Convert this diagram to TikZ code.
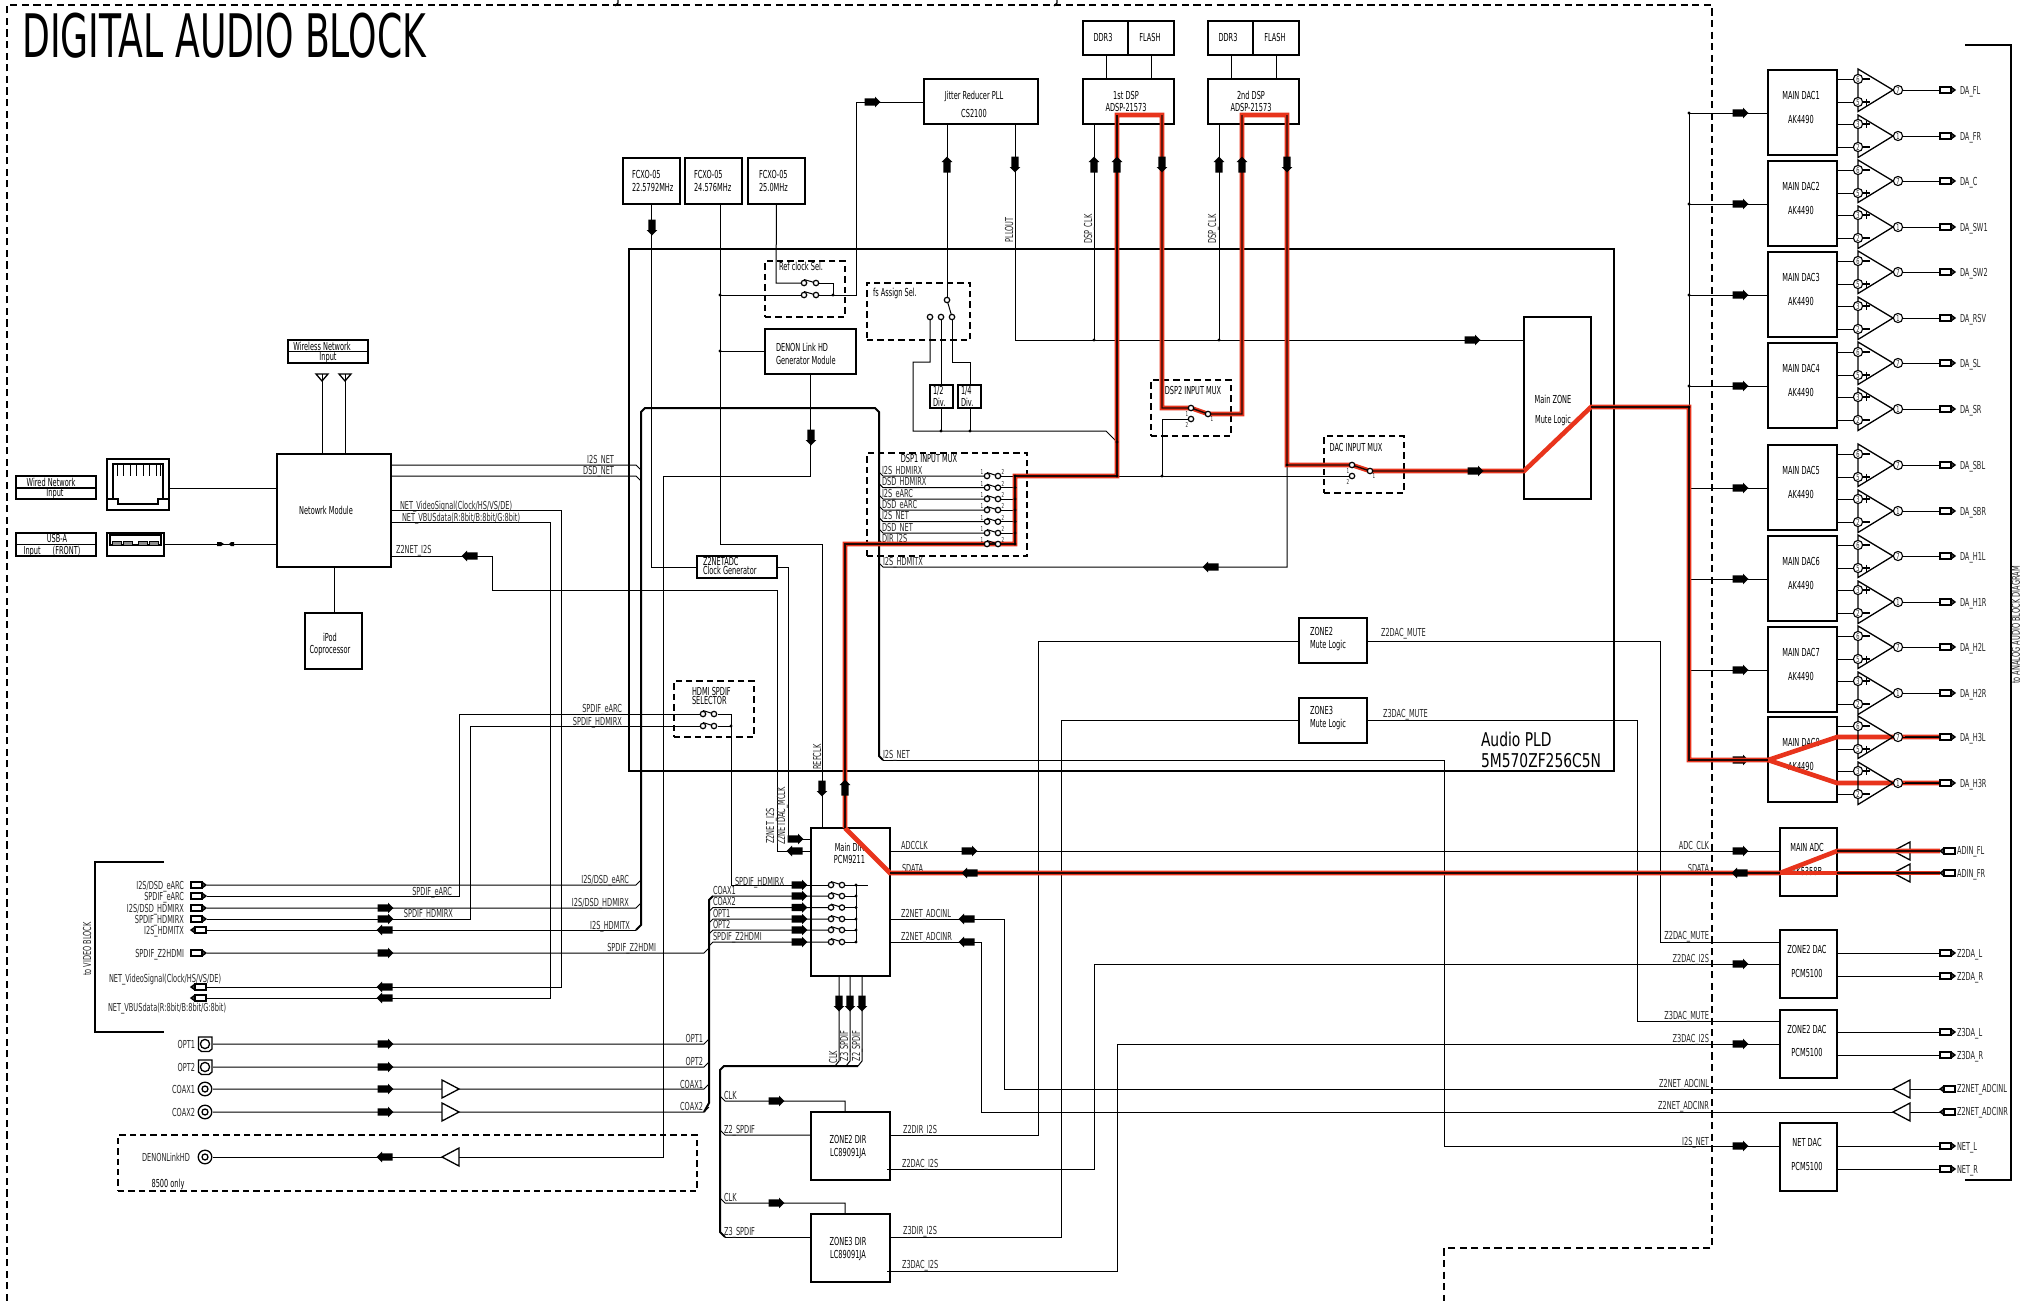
\documentclass[tikz,border=0pt]{standalone}
\usepackage{fontspec}
\setmainfont{DejaVu Sans}[FakeStretch=0.6]
\newfontfamily\titlefont{DejaVu Sans}[FakeStretch=0.603]
\newfontfamily\pldfont{DejaVu Sans}[FakeStretch=0.73]
\definecolor{hl}{RGB}{232,52,28}
\newcommand\lfont{\fontsize{5.5}{5.5}\selectfont}
\newcommand\sfont{\fontsize{4.2}{4.2}\selectfont}
\newcommand\xfont{\fontsize{3.4}{3.4}\selectfont}
\newcounter{lc}
\tikzset{
  boxb/.style={draw=black,line width=0.7pt,inner sep=0pt,outer sep=0pt,font=\lfont},
  dbox/.style={draw=black,line width=0.6pt,dash pattern=on 3.2pt off 2pt,inner sep=0pt,outer sep=0pt,font=\lfont},
  wire/.style={draw=black,line width=0.5pt},
  busl/.style={draw=black,line width=1pt},
  framel/.style={draw=black,line width=0.6pt,dash pattern=on 3.6pt off 2.2pt},
  redo/.style={draw=hl,line width=2.3pt,line join=miter},
  redc/.style={draw=black!85!hl,line width=0.7pt},
  shp/.style={draw=black,line width=0.65pt,line join=miter},
  symb/.style={draw=black,fill=white,line width=0.6pt},
  lab/.style={inner sep=0pt,outer sep=0pt,font=\lfont,text height=4pt,text depth=0pt,text=black!85},
  pinn/.style={circle,draw=black,fill=white,line width=0.55pt,inner sep=0pt,outer sep=0pt,minimum size=4.6pt,font=\sfont,text=black!85},
  numb/.style={inner sep=0pt,outer sep=0pt,font=\xfont,text=black!85},
}
\newcommand\Tc[1]{\makebox[0pt][c]{\begin{tabular}{@{}c@{}}#1\end{tabular}}}
\newcommand\Tl[1]{\makebox[0pt][l]{\begin{tabular}{@{}l@{}}#1\end{tabular}}}
\newcommand\blk[9][boxb]{%
  \pgfmathsetmacro\bW{(#5-#3)/2}\pgfmathsetmacro\bH{(#6-#4)/2}%
  \pgfmathsetmacro\bX{(#5+#3)/2}\pgfmathsetmacro\bY{(#6+#4)/2}%
  \pgfmathsetmacro\bDx{#7-\bX}\pgfmathsetmacro\bDy{(\bY-(#8))/2-2}%
  \node[#1,minimum width=\bW pt,minimum height=\bH pt] (#2) at (\bX,\bY)
    {\makebox[0pt][c]{\hspace*{\bDx pt}\raisebox{\bDy pt}[0pt][0pt]{#9}}};}
\newcommand\Lw[3]{\stepcounter{lc}\node[lab,anchor=west] (t\thelc) at (#1,#2) {#3};}
\newcommand\Le[3]{\stepcounter{lc}\node[lab,anchor=east] (t\thelc) at (#1,#2) {#3};}
\newcommand\Lr[3]{\stepcounter{lc}\node[lab,anchor=center,rotate=90] (t\thelc) at (#1,#2) {#3};}
\newcommand\Ln[3]{\stepcounter{lc}\node[numb] (t\thelc) at (#1,#2) {#3};}
\newcommand\pinc[3]{\stepcounter{lc}\node[pinn] (t\thelc) at (#1,#2) {#3};}
\newcommand\aR[2]{\fill[black] (#1,#2) ++(-7.5,-3.7) -- ++(10.5,0) -- ++(0,-1.6) -- ++(5.5,5.3) -- ++(-5.5,5.3) -- ++(0,-1.6) -- ++(-10.5,0) -- cycle;}
\newcommand\aL[2]{\fill[black] (#1,#2) ++(7.5,-3.7) -- ++(-10.5,0) -- ++(0,-1.6) -- ++(-5.5,5.3) -- ++(5.5,5.3) -- ++(0,-1.6) -- ++(10.5,0) -- cycle;}
\newcommand\aU[2]{\fill[black] (#1,#2) ++(-3.7,7.5) -- ++(0,-10.5) -- ++(-1.6,0) -- ++(5.3,-5.5) -- ++(5.3,5.5) -- ++(-1.6,0) -- ++(0,10.5) -- cycle;}
\newcommand\aD[2]{\fill[black] (#1,#2) ++(-3.7,-7.5) -- ++(0,10.5) -- ++(-1.6,0) -- ++(5.3,5.5) -- ++(5.3,-5.5) -- ++(-1.6,0) -- ++(0,-10.5) -- cycle;}
\newcommand\dt[2]{\fill[black] (#1,#2) circle (0.85pt);}
\newcommand\ring[2]{\draw[symb] (#1,#2) circle (1.35pt);}
\newcommand\sw[3]{\draw[wire] (#1,#3-3.5) -- (#2,#3); \ring{#1}{#3} \ring{#2}{#3}}
\newcommand\portR[2]{\draw[shp,fill=white] (#1,#2-3) rectangle (#1+11,#2+3); \draw[shp] (#1+11,#2-3) -- (#1+15,#2) -- (#1+11,#2+3); \draw[wire] (#1+12,#2-1.5) -- (#1+13.5,#2) -- (#1+12,#2+1.5);}
\newcommand\portL[2]{\draw[shp,fill=white] (#1+15,#2-3) rectangle (#1+4,#2+3); \draw[shp] (#1+4,#2-3) -- (#1,#2) -- (#1+4,#2+3); \draw[wire] (#1+3,#2-1.5) -- (#1+1.5,#2) -- (#1+3,#2+1.5);}
\newcommand\triR[2]{\draw[shp,fill=white] (#1,#2-9) -- (#1+17,#2) -- (#1,#2+9) -- cycle;}
\newcommand\triL[2]{\draw[shp,fill=white] (#1+17,#2-9) -- (#1,#2) -- (#1+17,#2+9) -- cycle;}
\newcommand\coax[2]{\draw[shp] (#1,#2) circle (3.4pt); \draw[shp] (#1,#2) circle (1.5pt);}
\newcommand\optc[2]{\draw[shp] (#1-6.5,#2-7) -- (#1+7,#2-7) -- (#1+7,#2+5) -- (#1+4,#2+7.5) -- (#1-3.5,#2+7.5) -- (#1-6.5,#2+5) -- cycle; \draw[shp] (#1,#2) circle (2.3pt);}
\newcommand\opamp[6]{%
  \draw[shp] (1858,#5-21) -- (1893,#5) -- (1858,#5+21.5) -- cycle;
  \pinc{1858}{#1}{#2}\pinc{1858}{#3}{#4}\pinc{1898}{#5}{#6}}
\newcommand\plusm[1]{\draw[wire,line width=0.6pt] (1863,#1) -- (1870,#1) (1866.5,#1-3.5) -- (1866.5,#1+3.5);}
\newcommand\minusm[1]{\draw[wire,line width=0.6pt] (1863,#1) -- (1870,#1);}
\begin{document}\catcode`\_=12
\begin{tikzpicture}[x=0.5pt,y=-0.5pt]
\useasboundingbox (0,0) rectangle (2020,1301);
% ---------- frames ----------
\draw[framel] (7,1301) -- (7,5) -- (1712,5) -- (1712,1248) -- (1444,1248) -- (1444,1301);
\draw[shp] (618,0) -- (618,3) -- (615,6);
\draw[shp] (1057,0) -- (1057,3) -- (1054,6);
\draw[shp] (1965,45) -- (2011,45) -- (2011,1180) -- (1965,1180);
\Lr{2015.8}{625}{to ANALOG AUDIO BLOCK DIAGRAM}
\draw[shp] (164,862) -- (95,862) -- (95,1032) -- (164,1032);
\Lr{87}{949}{to VIDEO BLOCK}
\stepcounter{lc}\node[inner sep=0pt,anchor=west,font=\titlefont\fontsize{30}{30}\selectfont,text height=22pt,text depth=0pt] (title) at (22,35) {DIGITAL AUDIO BLOCK};
% ---------- blocks ----------
\blk{PLD}{629}{249}{1614}{771}{1481}{750}{\Tl{\pldfont\fontsize{9.5}{9.5}\selectfont Audio PLD\\[1.4pt]\pldfont\fontsize{9.5}{9.5}\selectfont 5M570ZF256C5N}}
\blk{WLa}{288}{340}{368}{351.5}{322}{346}{\Tc{Wireless Network}}
\blk{WLb}{288}{351.5}{368}{363}{328}{357}{\Tc{Input}}
\blk{WDa}{16}{476}{96}{488}{51}{482}{\Tc{Wired Network}}
\blk{WDb}{16}{488}{96}{499}{55}{493}{\Tc{Input}}
\blk{USa}{16}{533}{96}{544.5}{57}{539}{\Tc{USB-A}}
\blk{USb}{16}{544.5}{96}{556}{52}{550}{\Tc{Input\hspace{6pt}(FRONT)}}
\blk{RJ}{107}{459}{169}{510}{138}{484}{}
\blk{USBJ}{107}{533}{164}{556}{135}{544}{}
\blk{NM}{277}{454}{391}{567}{326}{510}{\Tc{Netowrk Module}}
\blk{IPOD}{305}{613}{362}{669}{330}{643.5}{\Tc{iPod\\[0.6pt]Coprocessor}}
\blk{FCa}{623}{158}{680}{204}{632}{181}{\Tl{FCXO-05\\[0.6pt]22.5792MHz}}
\blk{FCb}{685}{158}{742}{204}{694}{181}{\Tl{FCXO-05\\[0.6pt]24.576MHz}}
\blk{FCc}{748}{158}{805}{204}{759}{181}{\Tl{FCXO-05\\[0.6pt]25.0MHz}}
\blk{PLL}{924}{79}{1038}{124}{974}{104.5}{\Tc{Jitter Reducer PLL\\[3pt]CS2100}}
\blk{DDRa}{1083}{21}{1128}{55}{1103}{38}{\Tc{DDR3}}
\blk{FLa}{1128}{21}{1174}{55}{1150}{38}{\Tc{FLASH}}
\blk{DSPa}{1083}{79}{1174}{124}{1126}{101.5}{\Tc{1st DSP\\[0pt]ADSP-21573}}
\blk{DDRb}{1208}{21}{1253}{55}{1228}{38}{\Tc{DDR3}}
\blk{FLb}{1253}{21}{1299}{55}{1275}{38}{\Tc{FLASH}}
\blk{DSPb}{1208}{79}{1299}{124}{1251}{101.5}{\Tc{2nd DSP\\[0pt]ADSP-21573}}
\blk[dbox]{RCS}{765}{261}{845}{317}{779}{266}{\Tl{Ref clock Sel.}}
\blk[dbox]{FSA}{867}{283}{970}{340}{873}{292}{\Tl{fs Assign Sel.}}
\blk{DLH}{765}{329}{856}{374}{776}{354}{\Tl{DENON Link HD\\[0.6pt]Generator Module}}
\blk{DIVa}{930}{385}{953}{408}{933}{396.5}{\Tl{1/2\\[0.3pt]Div.}}
\blk{DIVb}{958}{385}{981}{408}{961}{396.5}{\Tl{1/4\\[0.3pt]Div.}}
\blk[dbox]{DM1}{867}{453}{1027}{556}{929}{459}{\Tc{DSP1 INPUT MUX}}
\blk[dbox]{DM2}{1151}{380}{1231}{436}{1193}{391}{\Tc{DSP2 INPUT MUX}}
\blk[dbox]{DACM}{1324}{436}{1404}{493}{1356}{448}{\Tc{DAC INPUT MUX}}
\blk{MZ}{1524}{317}{1591}{499}{1553}{409.5}{\Tc{Main ZONE\\[4pt]Mute Logic}}
\blk{CG}{697}{556}{777}{578}{703}{566}{\Tl{Z2NETADC\\[-1pt]Clock Generator}}
\blk[dbox]{HSS}{674}{681}{754}{737}{692}{696}{\Tl{HDMI SPDIF\\[-1.5pt]SELECTOR}}
\blk{Z2M}{1299}{618}{1367}{663}{1310}{638}{\Tl{ZONE2\\[0.6pt]Mute Logic}}
\blk{Z3M}{1299}{698}{1367}{743}{1310}{717}{\Tl{ZONE3\\[0.6pt]Mute Logic}}
\blk{DIR}{811}{828}{890}{976}{849.5}{853.5}{\Tc{Main DIR\\[0pt]PCM9211}}
\blk{Z2D}{811}{1112}{890}{1180}{848}{1146}{\Tc{ZONE2 DIR\\[0.6pt]LC89091JA}}
\blk{Z3D}{811}{1214}{890}{1282}{848}{1248}{\Tc{ZONE3 DIR\\[0.6pt]LC89091JA}}
\foreach \n/\yy in {1/70,2/161,3/252,4/343,5/445,6/536,7/627,8/717}{
  \pgfmathsetmacro\ya{\yy+85}
  \blk{dac\n}{1768}{\yy}{1837}{\ya}{1801}{\yy+37.5}{\Tc{MAIN DAC\n\\[6pt]AK4490}}
}
\blk{ADC}{1780}{828}{1837}{896}{1807}{859.5}{\Tc{MAIN ADC\\[6pt]AK5358B}}
\blk{ZD2}{1780}{930}{1837}{998}{1807}{961.5}{\Tc{ZONE2 DAC\\[6pt]PCM5100}}
\blk{ZD3}{1780}{1010}{1837}{1078}{1807}{1041}{\Tc{ZONE2 DAC\\[6pt]PCM5100}}
\blk{ND}{1780}{1123}{1837}{1191}{1807}{1154.5}{\Tc{NET DAC\\[6pt]PCM5100}}
\blk[dbox]{DEN}{118}{1135}{697}{1191}{168}{1183}{\Tc{8500 only}}
% ---------- network side ----------
\draw[shp] (316,374) -- (328,374) -- (322,381) -- cycle; \draw[wire] (322,374) -- (322,0 |- NM.north);
\draw[shp] (339,374) -- (351,374) -- (345,381) -- cycle; \draw[wire] (345,374) -- (345,0 |- NM.north);
\draw[shp] (113,464) -- (163,464) -- (163,499) -- (158,499) -- (158,504) -- (118,504) -- (118,499) -- (113,499) -- cycle;
\draw[shp] (107,499) -- (113,499) (163,499) -- (169,499);
\foreach \xx in {117,123,130,136,143,149,156,160}{\draw[wire] (\xx,464) -- (\xx,476);}
\draw[shp] (110,535) rectangle (161,545);
\foreach \xx in {112,123,138,149}{\draw[wire,fill=black!45] (\xx,541) rectangle (\xx+9,545);}
\draw[wire] (RJ.east |- 0,488) -- (NM.west |- 0,488);
\draw[wire] (USBJ.east |- 0,544) -- (NM.west |- 0,544);
\fill[black] (217,542) -- (221,542) -- (224,544) -- (221,546) -- (217,546) -- cycle;
\fill[black] (234,542) -- (231,542) -- (229,544) -- (231,546) -- (234,546) -- cycle;
\draw[wire] (NM.south) -- (NM.south |- IPOD.north);
\draw[wire] (NM.east |- 0,465) -- (636,465) -- (641,470);
\draw[wire] (NM.east |- 0,476) -- (636,476) -- (641,481);
\Le{614}{459}{I2S_NET} \Le{614}{470}{DSD_NET}
\draw[wire] (NM.east |- 0,510) -- (561,510) -- (561,987) -- (207,987);
\draw[wire] (NM.east |- 0,522) -- (550,522) -- (550,998) -- (207,998);
\Lw{400}{505}{NET_VideoSignal(Clock/HS/VS/DE)}
\Lw{402}{517}{NET_VBUSdata(R:8bit/B:8bit/G:8bit)}
\draw[wire] (NM.east |- 0,556) -- (492,556) -- (492,590) -- (777,590) -- (777,851) -- (DIR.west |- 0,851);
\Lw{396}{549}{Z2NET_I2S}
\draw[wire] (FCa.south) -- (FCa.south |- CG.west) -- (CG.west);
\draw[wire] (CG.east) -- (788,567) -- (788,839) -- (DIR.west |- 0,839);
\draw[wire] (720,0 |- FCb.south) -- (720,544) -- (822,544) -- (822,0 |- DIR.north);
\draw[wire] (720,295) -- (801,295); \dt{720}{295}
\draw[wire] (720,351) -- (DLH.west |- 0,351); \dt{720}{351}
\draw[wire] (FCc.south) -- (776,283) -- (801,283);
\draw[wire] (819,283) -- (833,283) -- (833,295);
\draw[wire] (819,295) -- (856,295) -- (856,102) -- (PLL.west |- 0,102); \dt{833}{295}
\draw[wire] (947,0 |- PLL.south) -- (947,297);
\draw[wire] (1015,0 |- PLL.south) -- (1015,340) -- (MZ.west |- 0,340);
\draw[wire] (1094,0 |- DSPa.south) -- (1094,340); \dt{1094}{340}
\draw[wire] (1219,0 |- DSPb.south) -- (1219,340); \dt{1219}{340}
\draw[wire] (1106,0 |- DDRa.south) -- (1106,0 |- DSPa.north);
\draw[wire] (1151,0 |- FLa.south) -- (1151,0 |- DSPa.north);
\draw[wire] (1231,0 |- DDRb.south) -- (1231,0 |- DSPb.north);
\draw[wire] (1276,0 |- FLb.south) -- (1276,0 |- DSPb.north);
\Lr{1009}{230}{PLLOUT} \Lr{1088}{229}{DSP_CLK} \Lr{1212}{229}{DSP_CLK}
\draw[wire] (947,300) -- (952,317);
\draw[wire] (930,320) -- (930,362) -- (913,362) -- (913,431) -- (1106,431) -- (1117,442);
\draw[wire] (941,320) -- (941,0 |- DIVa.north);
\draw[wire] (952,320) -- (952,362) -- (970,362) -- (970,0 |- DIVb.north);
\draw[wire] (941,0 |- DIVa.south) -- (941,431); \dt{941}{431}
\draw[wire] (970,0 |- DIVb.south) -- (970,431); \dt{970}{431}
\draw[wire] (DLH.south) -- (DLH.south |- 0,476) -- (663,476) -- (663,1157) -- (459,1157);
% ---------- PLD buses ----------
\draw[busl] (636,930) -- (641,925) -- (641,412) -- (645,408) -- (875,408) -- (879,412) -- (879,756) -- (883,760);
\foreach \yy/\tx in {476/I2S_HDMIRX,487.7/DSD_HDMIRX,499/I2S_eARC,510/DSD_eARC,521.7/I2S_NET,533/DSD_NET,544/DIR_I2S}{
  \draw[wire] (879,\yy-4) -- (883,\yy) -- (984,\yy);
  \draw[wire] (1001,\yy) -- (1015,\yy);
  \Lw{882}{\yy-6}{\tx}
}
\draw[wire] (1015,476) -- (1015,544);
\draw[wire] (879,563) -- (883,567) -- (1287,567) -- (1287,465);
\Lw{883}{561}{I2S_HDMITX}
\draw[wire] (883,760) -- (1444,760) -- (1444,1146) -- (ND.west |- 0,1146);
\Lw{883}{754}{I2S_NET} \Le{1709}{1141}{I2S_NET}
\draw[wire] (1117,476) -- (1349,476);
\draw[wire] (1191,419) -- (1162,419) -- (1162,476);
% ---------- mute logic and zones ----------
\draw[wire] (Z2D.east |- 0,1135) -- (1038,1135) -- (1038,641) -- (Z2M.west |- 0,641);
\draw[wire] (Z3D.east |- 0,1237) -- (1061,1237) -- (1061,720) -- (Z3M.west |- 0,720);
\draw[wire] (887,1169) -- (1094,1169) -- (1094,964) -- (ZD2.west |- 0,964);
\draw[wire] (887,1271) -- (1117,1271) -- (1117,1044) -- (ZD3.west |- 0,1044);
\Lw{903}{1129}{Z2DIR_I2S} \Lw{902}{1163}{Z2DAC_I2S} \Lw{903}{1230}{Z3DIR_I2S} \Lw{902}{1264}{Z3DAC_I2S}
\draw[wire] (Z2M.east |- 0,641) -- (1660,641) -- (1660,942) -- (ZD2.west |- 0,942);
\draw[wire] (Z3M.east |- 0,720) -- (1637,720) -- (1637,1021) -- (ZD3.west |- 0,1021);
\Lw{1381}{632}{Z2DAC_MUTE} \Lw{1383}{713}{Z3DAC_MUTE}
\Le{1709}{935}{Z2DAC_MUTE} \Le{1709}{958}{Z2DAC_I2S} \Le{1709}{1015}{Z3DAC_MUTE} \Le{1709}{1038}{Z3DAC_I2S}
\draw[wire] (DIR.east |- 0,851) -- (ADC.west |- 0,851);
\Lw{901}{845}{ADCCLK} \Le{1709}{845}{ADC_CLK} \Lw{902}{868}{SDATA} \Le{1709}{868}{SDATA}
\draw[wire] (DIR.east |- 0,919) -- (1004,919) -- (1004,1089) -- (1893,1089);
\draw[wire] (DIR.east |- 0,942) -- (981,942) -- (981,1112) -- (1893,1112);
\draw[wire] (1910,1089) -- (1940,1089) (1910,1112) -- (1940,1112);
\Lw{901}{913}{Z2NET_ADCINL} \Lw{901}{936}{Z2NET_ADCINR}
\Le{1709}{1083}{Z2NET_ADCINL} \Le{1709}{1105}{Z2NET_ADCINR}
% ---------- left ports ----------
\draw[wire] (207,885) -- (636,885) -- (641,880);
\draw[wire] (207,896) -- (459,896) -- (459,714) -- (700,714);
\draw[wire] (207,908) -- (636,908) -- (641,903);
\draw[wire] (207,919) -- (470,919) -- (470,726) -- (700,726);
\draw[wire] (207,930) -- (636,930);
\draw[wire] (207,953) -- (704,953) -- (709,948);
\Le{629}{879}{I2S/DSD_eARC} \Le{452}{891}{SPDIF_eARC} \Le{629}{902}{I2S/DSD_HDMIRX} \Le{453}{913}{SPDIF_HDMIRX} \Le{630}{925}{I2S_HDMITX} \Le{656}{947}{SPDIF_Z2HDMI}
\Le{622}{708}{SPDIF_eARC} \Le{622}{721}{SPDIF_HDMIRX}
\draw[wire] (213,1044) -- (704,1044) -- (709,1039);
\draw[wire] (213,1067) -- (704,1067) -- (709,1062);
\draw[wire] (213,1089) -- (704,1089) -- (709,1084);
\draw[wire] (213,1112) -- (704,1112) -- (709,1107);
\Le{703}{1038}{OPT1} \Le{703}{1061}{OPT2} \Le{703}{1084}{COAX1} \Le{703}{1106}{COAX2}
\draw[wire] (213,1157) -- (442,1157);
\Le{184}{885}{I2S/DSD_eARC} \Le{184}{896}{SPDIF_eARC} \Le{184}{908}{I2S/DSD_HDMIRX} \Le{184}{919}{SPDIF_HDMIRX} \Le{184}{930}{I2S_HDMITX} \Le{184}{953}{SPDIF_Z2HDMI}
\Lw{109}{978}{NET_VideoSignal(Clock/HS/VS/DE)} \Lw{108}{1007}{NET_VBUSdata(R:8bit/B:8bit/G:8bit)}
\Le{195}{1044}{OPT1} \Le{195}{1067}{OPT2} \Le{195}{1089}{COAX1} \Le{195}{1112}{COAX2} \Le{190}{1157}{DENONLinkHD}
\optc{205}{1044} \optc{205}{1067} \coax{205}{1089} \coax{205}{1112} \coax{205}{1157}
\portR{191}{885} \portR{191}{896} \portR{191}{908} \portR{191}{919} \portL{191}{930} \portR{191}{953} \portL{191}{987} \portL{191}{998}
\triR{442}{1089} \triR{442}{1112} \triL{442}{1157}
% ---------- DIR inputs and outputs ----------
\draw[wire] (718,714) -- (731,714) -- (731,885) -- (828,885);
\draw[wire] (718,726) -- (731,726); \dt{731}{726}
\Lw{735}{881}{SPDIF_HDMIRX}
\draw[busl] (713,896) -- (709,900) -- (709,1103) -- (704,1112);
\foreach \yy/\tx in {896/COAX1,907.5/COAX2,919/OPT1,930/OPT2,942/SPDIF_Z2HDMI}{
  \draw[wire] (709,\yy+4) -- (713,\yy) -- (828,\yy);
  \Lw{713}{\yy-6}{\tx}
  \draw[wire] (845,\yy) -- (856,\yy);
  \dt{856}{\yy}
}
\draw[wire] (845,885) -- (868,885); \dt{856}{885}
\draw[wire] (856,885) -- (856,942);
\draw[wire] (839,0 |- DIR.south) -- (839,1061) -- (835,1066);
\draw[wire] (850,0 |- DIR.south) -- (850,1061) -- (846,1066);
\draw[wire] (862,0 |- DIR.south) -- (862,1061) -- (858,1066);
\Lr{833}{1057}{CLK} \Lr{844}{1046}{Z3_SPDIF} \Lr{856}{1046}{Z2_SPDIF}
\draw[busl] (858,1066) -- (724,1066) -- (720,1070) -- (720,1232) -- (725,1237);
\draw[wire] (720,1096) -- (725,1101) -- (845,1101) -- (845,0 |- Z2D.north);
\draw[wire] (720,1130) -- (725,1135) -- (Z2D.west |- 0,1135);
\draw[wire] (720,1198) -- (725,1203) -- (845,1203) -- (845,0 |- Z3D.north);
\draw[wire] (725,1237) -- (Z3D.west |- 0,1237);
\Lw{724}{1095}{CLK} \Lw{724}{1129}{Z2_SPDIF} \Lw{724}{1197}{CLK} \Lw{724}{1231}{Z3_SPDIF}
\Lr{770}{826}{Z2NET_I2S} \Lr{781}{816}{Z2NETDAC_MCLK} \Lr{817}{757}{REFCLK}
% ---------- DAC bus ----------
\draw[wire] (1689,113) -- (1689,760);
\foreach \n/\yy in {1/70,2/161,3/252,4/343,5/445,6/536,7/627,8/717}{
  \draw[wire] (1689,\yy+43) -- (dac\n.west |- 0,\yy+43);
  \dt{1689}{\yy+43}
  \aR{1740}{\yy+43}
  \foreach \dd in {9,32,54,77}{\draw[wire] (dac\n.east |- 0,\yy+\dd) -- (1854,\yy+\dd);}
}
% ---------- analogue outs ----------
\foreach \yy/\tx in {953/Z2DA_L,976/Z2DA_R,1032/Z3DA_L,1055/Z3DA_R,1146/NET_L,1169/NET_R}{
  \draw[wire] (1837,\yy) -- (1940,\yy);
  \portR{1940}{\yy}
  \Lw{1957}{\yy}{\tx}
}
\portL{1940}{851} \portL{1940}{873} \portL{1940}{1089} \portL{1940}{1112}
\Lw{1957}{850}{ADIN_FL} \Lw{1957}{873}{ADIN_FR} \Lw{1957}{1088}{Z2NET_ADCINL} \Lw{1957}{1111}{Z2NET_ADCINR}
\triL{1893}{851} \triL{1893}{873} \triL{1893}{1089} \triL{1893}{1112}
% ---------- highlighted path ----------
\draw[redo] (845,828) -- (845,544) -- (1015,544) -- (1015,476) -- (1117,476) -- (1117,115) -- (1162,115) -- (1162,408) -- (1191,408) -- (1208,414) -- (1242,414) -- (1242,115) -- (1287,115) -- (1287,465) -- (1352,465) -- (1370,471) -- (1524,471) -- (1591,407) -- (1689,407) -- (1689,760) -- (1768,760);
\draw[redo] (845,828) -- (890,873) -- (1780,873) -- (1837,851) -- (1940,851);
\draw[redo] (1780,873) -- (1940,873);
\draw[redo] (1768,760) -- (1837,737) -- (1940,737);
\draw[redo] (1768,760) -- (1837,783) -- (1940,783);
\draw[redc] (845,828) -- (845,544) -- (1015,544) -- (1015,476) -- (1117,476) -- (1117,115);
\draw[redc] (1162,115) -- (1162,408) -- (1191,408) -- (1208,414) -- (1242,414) -- (1242,115);
\draw[redc] (1287,115) -- (1287,465) -- (1352,465) -- (1370,471) -- (1524,471);
\draw[redc] (1591,407) -- (1689,407) -- (1689,760) -- (1768,760);
\draw[redc] (890,873) -- (1780,873);
\draw[redc] (1837,851) -- (1940,851) (1837,873) -- (1940,873);
\draw[redc] (1905,737) -- (1940,737) (1905,783) -- (1940,783);
% ---------- op-amps ----------
\foreach \n/\yy/\aa/\bb in {1/70/DA_FL/DA_FR,2/161/DA_C/DA_SW1,3/252/DA_SW2/DA_RSV,4/343/DA_SL/DA_SR,5/445/DA_SBL/DA_SBR,6/536/DA_H1L/DA_H1R,7/627/DA_H2L/DA_H2R,8/717/DA_H3L/DA_H3R}{
  \opamp{\yy+9}{6}{\yy+32}{5}{\yy+20}{7}
  \opamp{\yy+54}{3}{\yy+77}{2}{\yy+66}{1}
  \minusm{\yy+9}\plusm{\yy+32}\plusm{\yy+54}\minusm{\yy+77}
  \draw[wire] (1902,\yy+20) -- (1940,\yy+20) (1902,\yy+66) -- (1940,\yy+66);
  \portR{1940}{\yy+20} \portR{1940}{\yy+66}
  \Lw{1960}{\yy+20}{\aa} \Lw{1960}{\yy+66}{\bb}
}
% ---------- switches ----------
\foreach \yy in {476,487.7,499,510,521.7,533,544}{
  \sw{987}{998}{\yy}
  \Ln{982}{\yy-4}{1} \Ln{1003}{\yy-4}{2}
  \dt{1015}{\yy}
}
\dt{1117}{476} \dt{1162}{476} \dt{1287}{465} \dt{1117}{442} \dt{1689}{407}
\sw{804}{816}{283} \sw{804}{816}{295}
\sw{703}{714}{714} \sw{703}{714}{726}
\foreach \yy in {885,896,907.5,919,930,942}{\sw{831}{842}{\yy}}
\ring{947}{300} \ring{930}{317} \ring{941}{317} \ring{952}{317}
\ring{1191}{408} \ring{1208}{414} \ring{1191}{419}
\Ln{1187}{414}{1} \Ln{1187}{425}{2} \Ln{1212}{419}{1}
\ring{1352}{465} \ring{1370}{471} \ring{1352}{476}
\Ln{1348}{471}{1} \Ln{1348}{482}{2} \Ln{1374}{476}{1}
% ---------- arrows ----------
\aR{872}{102} \aR{1475}{471} \aR{1472}{340} \aR{969}{851} \aR{1740}{851} \aR{1740}{964} \aR{1740}{1044} \aR{1740}{1146}
\foreach \yy in {908,919,953,1044,1067,1089,1112}{\aR{385}{\yy}}
\foreach \yy in {885,896,907.5,919,930,942}{\aR{799}{\yy}}
\aR{795}{839} \aR{776}{1101} \aR{776}{1203}
\aL{470}{556} \aL{1211}{567} \aL{970}{873} \aL{967}{919} \aL{967}{942} \aL{795}{851} \aL{1740}{873}
\foreach \yy in {930,987,998,1157}{\aL{385}{\yy}}
\aU{947}{165} \aU{1094}{165} \aU{1117}{165} \aU{1219}{165} \aU{1242}{165} \aU{845}{788}
\aD{1015}{164} \aD{1162}{164} \aD{1287}{164} \aD{652}{227} \aD{811}{437} \aD{822}{788} \aD{839}{1003} \aD{850}{1003} \aD{862}{1003}
\end{tikzpicture}
\end{document}
